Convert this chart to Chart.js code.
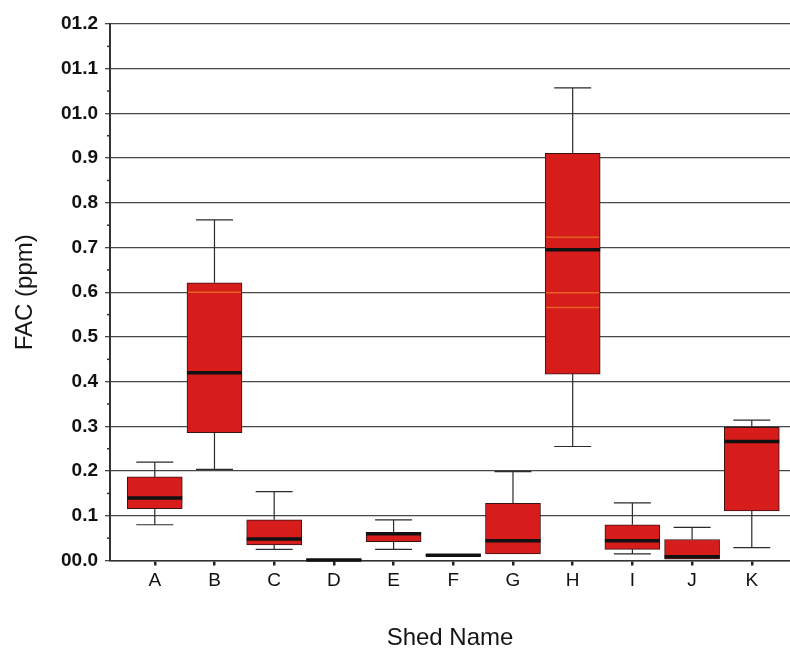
<!DOCTYPE html>
<html><head><meta charset="utf-8">
<script src="https://cdn.jsdelivr.net/npm/chart.js@4/dist/chart.umd.min.js"></script>
<style>html,body{margin:0;padding:0;background:#fff}canvas{display:block}</style>
</head><body>
<canvas id="c" width="790" height="652"></canvas>
<script>
const categories = ['A','B','C','D','E','F','G','H','I','J','K'];
const q1 =          [0.116, 0.286, 0.035, 0.000, 0.042, 0.010, 0.0145, 0.417, 0.025, 0.003, 0.111];
const q3 =          [0.187, 0.621, 0.091, 0.003, 0.063, 0.013, 0.128,  0.911, 0.080, 0.047, 0.298];
const medians =     [0.140, 0.420, 0.048, 0.001, 0.060, 0.012, 0.044,  0.695, 0.044, 0.0085, 0.266];
const whiskerLow =  [0.080, 0.204, 0.025, 0.000, 0.025, 0.010, 0.0145, 0.255, 0.015, 0.003, 0.029];
const whiskerHigh = [0.220, 0.762, 0.154, 0.003, 0.091, 0.013, 0.199,  1.057, 0.129, 0.074, 0.314];
const faintMarks =  [[], [0.600], [], [], [], [], [], [0.723, 0.599, 0.566], [], [], []];
const yTickLabels = ['00.0','0.1','0.2','0.3','0.4','0.5','0.6','0.7','0.8','0.9','01.0','01.1','01.2'];

const FONT = "'Liberation Sans', Arial, Helvetica, sans-serif";

const boxData = categories.map((c, i) => ({x: i, y: [q1[i], q3[i]]}));

const boxExtras = {
  id: 'boxExtras',
  afterDatasetsDraw(chart) {
    const {ctx, scales: {x, y}, chartArea} = chart;
    const meta = chart.getDatasetMeta(0);
    ctx.save();
    categories.forEach((c, i) => {
      const cx = x.getPixelForValue(i);
      const bw = meta.data[i].width;
      const capHalf = 18.5;
      ctx.strokeStyle = '#2b2b2b';
      ctx.lineWidth = 1.2;
      const yq1 = y.getPixelForValue(q1[i]);
      const yq3 = y.getPixelForValue(q3[i]);
      if (whiskerHigh[i] > q3[i]) {
        const yh = y.getPixelForValue(whiskerHigh[i]);
        ctx.beginPath(); ctx.moveTo(cx, yq3); ctx.lineTo(cx, yh);
        ctx.moveTo(cx - capHalf, yh); ctx.lineTo(cx + capHalf, yh); ctx.stroke();
      }
      if (whiskerLow[i] < q1[i]) {
        const yl = y.getPixelForValue(whiskerLow[i]);
        ctx.beginPath(); ctx.moveTo(cx, yq1); ctx.lineTo(cx, yl);
        ctx.moveTo(cx - capHalf, yl); ctx.lineTo(cx + capHalf, yl); ctx.stroke();
      }
      ctx.strokeStyle = 'rgba(240,150,40,0.55)';
      ctx.lineWidth = 1.5;
      faintMarks[i].forEach(v => {
        const yy = y.getPixelForValue(v);
        ctx.beginPath(); ctx.moveTo(cx - bw / 2 + 1, yy); ctx.lineTo(cx + bw / 2 - 1, yy); ctx.stroke();
      });
      ctx.strokeStyle = '#111';
      ctx.lineWidth = 3.5;
      const ym = y.getPixelForValue(medians[i]);
      ctx.beginPath(); ctx.moveTo(cx - bw / 2, ym); ctx.lineTo(cx + bw / 2, ym); ctx.stroke();
    });
    // minor ticks on y axis
    ctx.strokeStyle = '#333';
    ctx.lineWidth = 1.5;
    for (let k = 0; k < 12; k++) {
      const yy = y.getPixelForValue(0.05 + k * 0.1);
      ctx.beginPath(); ctx.moveTo(chartArea.left - 3, yy); ctx.lineTo(chartArea.left, yy); ctx.stroke();
    }
    ctx.restore();
  }
};

new Chart(document.getElementById('c'), {
  type: 'bar',
  data: {
    datasets: [{
      data: boxData,
      backgroundColor: '#d71c1c',
      borderColor: '#3a1212',
      borderWidth: 1,
      borderSkipped: false,
      barThickness: 55,
      grouped: false
    }]
  },
  options: {
    responsive: false,
    animation: false,
    devicePixelRatio: 1,
    layout: {padding: {top: 24, right: 0, bottom: 0, left: 0}},
    plugins: {legend: {display: false}, tooltip: {enabled: false}},
    scales: {
      x: {
        type: 'linear',
        min: -0.75,
        max: 10.64,
        offset: false,
        ticks: {
          stepSize: 1,
          includeBounds: false,
          autoSkip: false,
          maxRotation: 0,
          padding: 4,
          color: '#111',
          font: {family: FONT, size: 19},
          callback: (v) => (Number.isInteger(v) && categories[v] !== undefined) ? categories[v] : ''
        },
        grid: {drawOnChartArea: false, drawTicks: true, tickLength: 5, color: '#222', lineWidth: 2.5, offset: false},
        border: {display: true, color: '#333', width: 1.5},
        title: {display: true, text: 'Shed Name', color: '#151515', font: {family: FONT, size: 24}, padding: {top: 0, bottom: -1}},
        afterFit: (s) => { s.height = 91.5; }
      },
      y: {
        min: 0,
        max: 1.2,
        ticks: {
          stepSize: 0.1,
          padding: 7,
          color: '#111',
          font: {family: FONT, size: 19, weight: 'bold'},
          callback: (v) => yTickLabels[Math.round(v * 10)]
        },
        grid: {color: '#474747', lineWidth: 1.3, tickLength: 5},
        border: {display: true, color: '#333', width: 2},
        title: {display: true, text: 'FAC (ppm)', color: '#151515', font: {family: FONT, size: 24}, padding: {top: 11, bottom: 0}},
        afterFit: (s) => { s.width = 110; }
      }
    }
  },
  plugins: [boxExtras]
});
</script>
</body></html>
